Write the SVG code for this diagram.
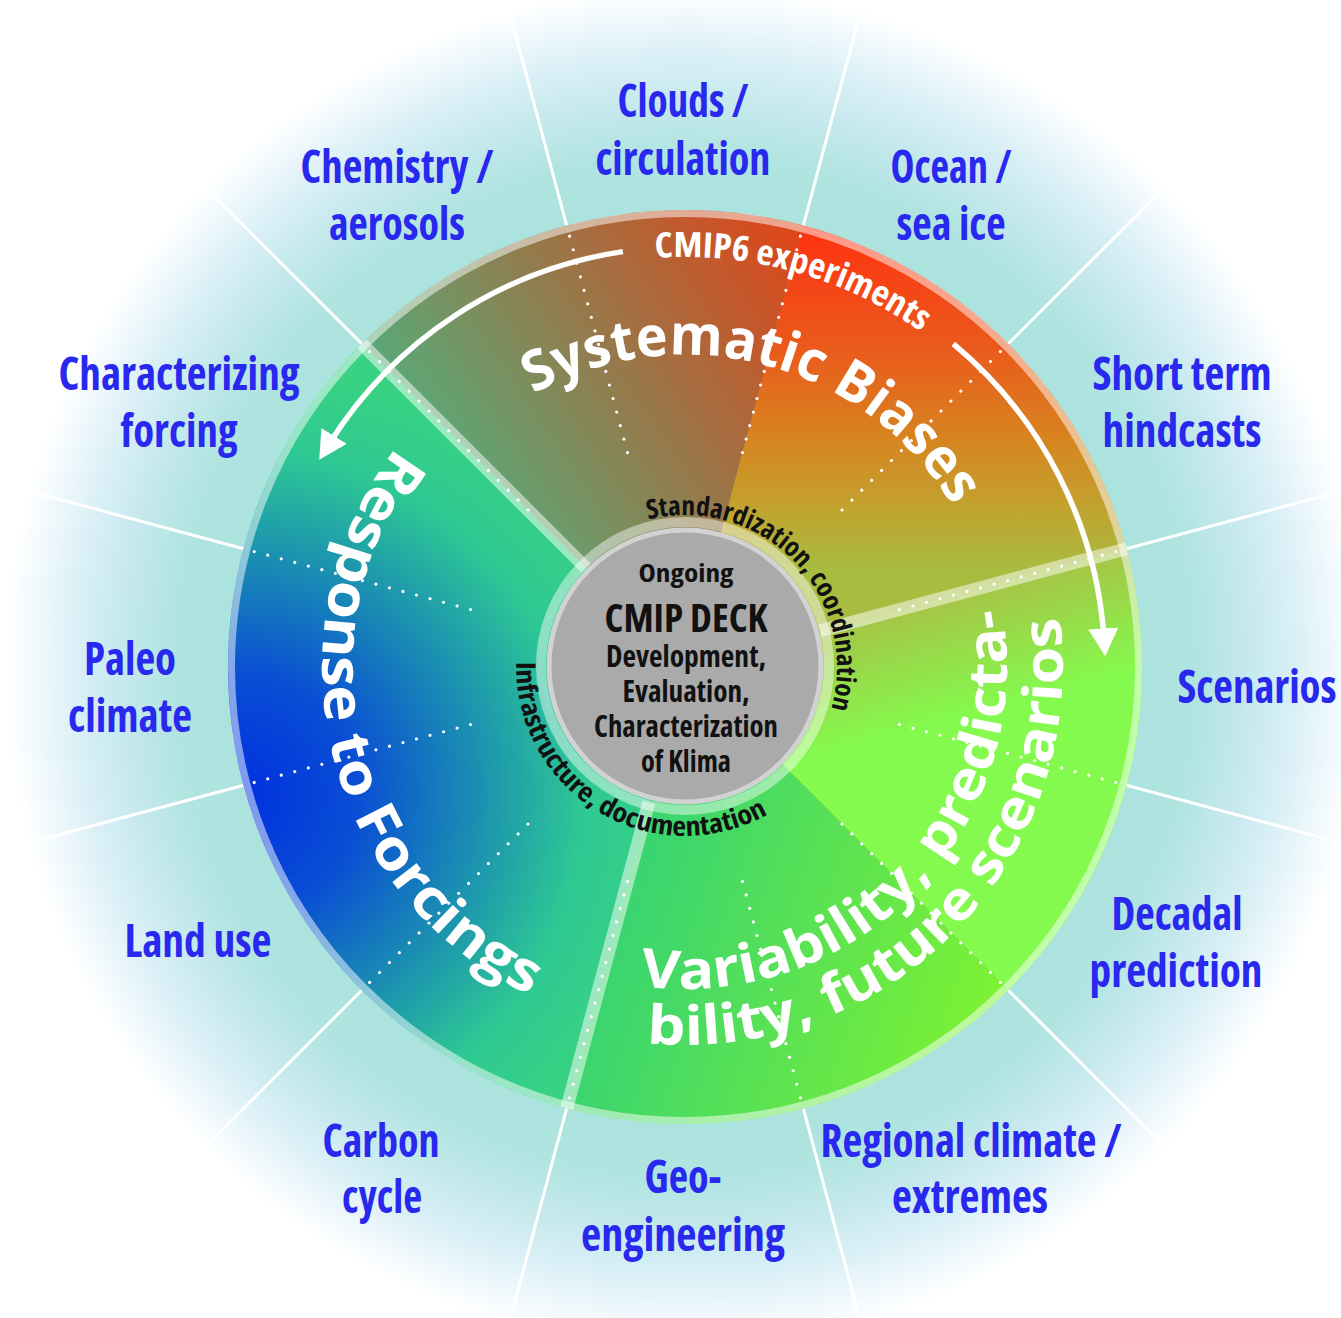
<svg xmlns="http://www.w3.org/2000/svg" width="1341" height="1318" viewBox="0 0 1341 1318">
<style>
.lbl{font-family:"Open Sans","Liberation Sans",sans-serif;font-weight:700;font-stretch:condensed;font-size:46px;fill:#2828ee;text-anchor:middle}
.arcw{font-family:"Open Sans","Liberation Sans",sans-serif;font-weight:700;fill:#fff;text-anchor:middle}
.arcb{font-family:"Open Sans","Liberation Sans",sans-serif;font-weight:700;font-stretch:condensed;fill:#111;text-anchor:middle;font-size:27px}
.ctr{font-family:"Open Sans","Liberation Sans",sans-serif;font-weight:700;font-stretch:condensed;fill:#111;text-anchor:middle}
.dot{stroke:#fff;stroke-width:3.2;stroke-linecap:round;stroke-dasharray:0 14;fill:none}
.spoke{stroke:#fff;stroke-width:3}
.thick{stroke:#fff;stroke-opacity:0.5;stroke-width:13}
.arrow{stroke:#fff;stroke-width:5.5;fill:none;marker-end:url(#ah)}
</style>
<defs>
<radialGradient id="halo" cx="685" cy="667" r="690" gradientUnits="userSpaceOnUse">
<stop offset="0.6" stop-color="#a9e2dc"/>
<stop offset="0.74" stop-color="#b0e4e0"/>
<stop offset="0.81" stop-color="#c3e8ec"/>
<stop offset="0.88" stop-color="#d8eff6"/>
<stop offset="0.94" stop-color="#eff8fc"/>
<stop offset="0.985" stop-color="#ffffff"/>
</radialGradient>
<linearGradient id="gA1" gradientUnits="userSpaceOnUse" x1="440" y1="470" x2="800" y2="228">
<stop offset="0" stop-color="#58aa78"/>
<stop offset="0.5" stop-color="#9a7648"/>
<stop offset="1" stop-color="#e04418"/>
</linearGradient>
<linearGradient id="gA2" gradientUnits="userSpaceOnUse" x1="800" y1="228" x2="800" y2="570">
<stop offset="0" stop-color="#ff3210"/>
<stop offset="0.35" stop-color="#ea5a1c"/>
<stop offset="0.6" stop-color="#d8821f"/>
<stop offset="0.8" stop-color="#c4a02e"/>
<stop offset="1" stop-color="#a8bc40"/>
</linearGradient>
<linearGradient id="gB1" gradientUnits="userSpaceOnUse" x1="1004" y1="582" x2="1035" y2="698">
<stop offset="0" stop-color="#a6c446"/>
<stop offset="1" stop-color="#84fa4e"/>
</linearGradient>
<linearGradient id="gB2" gradientUnits="userSpaceOnUse" x1="640" y1="880" x2="1000" y2="1000">
<stop offset="0" stop-color="#3ad470"/>
<stop offset="1" stop-color="#7ef232"/>
</linearGradient>
<radialGradient id="gC" cx="238" cy="795" r="430" gradientUnits="userSpaceOnUse">
<stop offset="0" stop-color="#0030e0"/>
<stop offset="0.28" stop-color="#0a4ed4"/>
<stop offset="0.55" stop-color="#1a8eb2"/>
<stop offset="0.8" stop-color="#2ec894"/>
<stop offset="1" stop-color="#38d282"/>
</radialGradient>
<marker id="ah" markerUnits="userSpaceOnUse" viewBox="0 0 30 30" markerWidth="30" markerHeight="30" refX="10" refY="15" orient="auto">
<path d="M0,0 L28,15 L0,30 z" fill="#fff"/>
</marker>
<path id="pCmip" d="M397.6,374.6 A410,410 0 0 1 1081.9,564.3"/>
<path id="pSys" d="M391.8,560.3 A312,312 0 0 1 992.3,721.2"/>
<path id="pResp" d="M539.1,334.6 A363,363 0 0 0 708.4,1029.2"/>
<path id="pVar1" d="M506.1,934.7 A322,322 0 0 0 944.7,476.6"/>
<path id="pVar2" d="M473.1,980.0 A378,378 0 0 0 991.2,445.4"/>
<path id="pStd" d="M589.3,548.9 A152,152 0 0 1 799.7,766.7"/>
<path id="pInf" d="M533.4,592.4 A169,169 0 0 0 821.4,766.8"/>
</defs>

<rect width="1341" height="1318" fill="#fff"/>
<circle cx="685" cy="667" r="690" fill="url(#halo)"/>

<g id="spokes">
<line class="spoke" x1="361.8" y1="343.8" x2="204.2" y2="186.2"/>
<line class="spoke" x1="566.7" y1="225.6" x2="509.0" y2="10.2"/>
<line class="spoke" x1="803.3" y1="225.6" x2="861.0" y2="10.2"/>
<line class="spoke" x1="1008.2" y1="343.8" x2="1165.8" y2="186.2"/>
<line class="spoke" x1="1126.4" y1="548.7" x2="1341.8" y2="491.0"/>
<line class="spoke" x1="1126.4" y1="785.3" x2="1341.8" y2="843.0"/>
<line class="spoke" x1="1008.2" y1="990.2" x2="1165.8" y2="1147.8"/>
<line class="spoke" x1="803.3" y1="1108.4" x2="861.0" y2="1323.8"/>
<line class="spoke" x1="566.7" y1="1108.4" x2="509.0" y2="1323.8"/>
<line class="spoke" x1="361.8" y1="990.2" x2="204.2" y2="1147.8"/>
<line class="spoke" x1="243.6" y1="785.3" x2="28.2" y2="843.0"/>
<line class="spoke" x1="243.6" y1="548.7" x2="28.2" y2="491.0"/>
</g>

<g id="ring">
<circle cx="685" cy="667" r="456" fill="#70a060"/>
<path d="M685,667 L361.8,343.8 A457,457 0 0 1 803.3,225.6 Z" fill="url(#gA1)"/>
<path d="M685,667 L803.3,225.6 A457,457 0 0 1 1126.4,548.7 Z" fill="url(#gA2)"/>
<path d="M685,667 L1126.4,548.7 A457,457 0 0 1 1008.2,990.2 Z" fill="url(#gB1)"/>
<path d="M685,667 L1008.2,990.2 A457,457 0 0 1 566.7,1108.4 Z" fill="url(#gB2)"/>
<path d="M685,667 L566.7,1108.4 A457,457 0 0 1 361.8,343.8 Z" fill="url(#gC)"/>
<circle cx="685" cy="667" r="453.5" fill="none" stroke="#fff" stroke-opacity="0.5" stroke-width="7"/>
</g>

<g id="dividers">
<line class="thick" x1="586.0" y1="568.0" x2="361.8" y2="343.8"/>
<line class="thick" x1="820.2" y1="630.8" x2="1126.4" y2="548.7"/>
<line class="thick" x1="648.8" y1="802.2" x2="566.7" y2="1108.4"/>
<line class="dot" x1="528.0" y1="510.0" x2="369.6" y2="351.6"/>
<line class="dot" x1="627.5" y1="452.6" x2="569.6" y2="236.2"/>
<line class="dot" x1="742.5" y1="452.6" x2="800.4" y2="236.2"/>
<line class="dot" x1="842.0" y1="510.0" x2="1000.4" y2="351.6"/>
<line class="dot" x1="899.4" y1="609.5" x2="1115.8" y2="551.6"/>
<line class="dot" x1="899.4" y1="724.5" x2="1115.8" y2="782.4"/>
<line class="dot" x1="842.0" y1="824.0" x2="1000.4" y2="982.4"/>
<line class="dot" x1="742.5" y1="881.4" x2="800.4" y2="1097.8"/>
<line class="dot" x1="627.5" y1="881.4" x2="569.6" y2="1097.8"/>
<line class="dot" x1="528.0" y1="824.0" x2="369.6" y2="982.4"/>
<line class="dot" x1="470.6" y1="724.5" x2="254.2" y2="782.4"/>
<line class="dot" x1="470.6" y1="609.5" x2="254.2" y2="551.6"/>
</g>

<g id="arrows">
<path class="arrow" d="M622.9,251.6 A420,420 0 0 0 328.8,444.4"/>
<path class="arrow" d="M953.3,343.9 A420,420 0 0 1 1104.0,638.4"/>
</g>

<g id="cmip6-experiments">
<text class="arcw" font-size="35" font-stretch="condensed"><textPath href="#pCmip" startOffset="50%" textLength="281" lengthAdjust="spacingAndGlyphs">CMIP6 experiments</textPath></text>
</g>
<g id="systematic-biases">
<text class="arcw" font-size="56"><textPath href="#pSys" startOffset="50%" textLength="480" lengthAdjust="spacingAndGlyphs">Systematic Biases</textPath></text>
</g>
<g id="response-to-forcings">
<text class="arcw" font-size="56"><textPath href="#pResp" startOffset="50%" textLength="646" lengthAdjust="spacingAndGlyphs">Response to Forcings</textPath></text>
</g>
<g id="variability">
<text class="arcw" font-size="54"><textPath href="#pVar1" startOffset="50%" textLength="610" lengthAdjust="spacingAndGlyphs">Variability, predicta-</textPath></text>
<text class="arcw" font-size="54"><textPath href="#pVar2" startOffset="50%" textLength="682" lengthAdjust="spacingAndGlyphs">bility, future scenarios</textPath></text>
</g>

<g id="cmip-deck">
<circle cx="685" cy="666" r="144" fill="none" stroke="#fff" stroke-opacity="0.45" stroke-width="10"/>
<circle cx="685" cy="666" r="136" fill="#aaaaaa" stroke="#d2d2d2" stroke-width="5"/>
<text class="ctr" x="686" y="582" font-size="25" textLength="95" lengthAdjust="spacingAndGlyphs">Ongoing</text>
<text class="ctr" x="686" y="632" font-size="40" textLength="163" lengthAdjust="spacingAndGlyphs">CMIP DECK</text>
<text class="ctr" x="686" y="667" font-size="31" textLength="160" lengthAdjust="spacingAndGlyphs">Development,</text>
<text class="ctr" x="686" y="702" font-size="31" textLength="127" lengthAdjust="spacingAndGlyphs">Evaluation,</text>
<text class="ctr" x="686" y="737" font-size="31" textLength="184" lengthAdjust="spacingAndGlyphs">Characterization</text>
<text class="ctr" x="686" y="772" font-size="31" textLength="90" lengthAdjust="spacingAndGlyphs">of Klima</text>
</g>

<g id="standardization">
<text class="arcb"><textPath href="#pStd" startOffset="50%" textLength="318" lengthAdjust="spacingAndGlyphs">Standardization, coordination</textPath></text>
</g>
<g id="infrastructure">
<text class="arcb"><textPath href="#pInf" startOffset="50%" textLength="357" lengthAdjust="spacingAndGlyphs">Infrastructure, documentation</textPath></text>
</g>

<g id="label-clouds"><text class="lbl" x="683" y="117" textLength="131" lengthAdjust="spacingAndGlyphs">Clouds /</text><text class="lbl" x="683" y="175" textLength="175" lengthAdjust="spacingAndGlyphs">circulation</text></g>
<g id="label-chemistry"><text class="lbl" x="397" y="183" textLength="193" lengthAdjust="spacingAndGlyphs">Chemistry /</text><text class="lbl" x="397" y="240" textLength="136" lengthAdjust="spacingAndGlyphs">aerosols</text></g>
<g id="label-ocean"><text class="lbl" x="951" y="183" textLength="121" lengthAdjust="spacingAndGlyphs">Ocean /</text><text class="lbl" x="951" y="240" textLength="109" lengthAdjust="spacingAndGlyphs">sea ice</text></g>
<g id="label-short-term"><text class="lbl" x="1182" y="390" textLength="179" lengthAdjust="spacingAndGlyphs">Short term</text><text class="lbl" x="1182" y="447" textLength="159" lengthAdjust="spacingAndGlyphs">hindcasts</text></g>
<g id="label-forcing"><text class="lbl" x="179" y="390" textLength="241" lengthAdjust="spacingAndGlyphs">Characterizing</text><text class="lbl" x="179" y="447" textLength="117" lengthAdjust="spacingAndGlyphs">forcing</text></g>
<g id="label-paleo"><text class="lbl" x="130" y="675" textLength="92" lengthAdjust="spacingAndGlyphs">Paleo</text><text class="lbl" x="130" y="732" textLength="124" lengthAdjust="spacingAndGlyphs">climate</text></g>
<g id="label-scenarios"><text class="lbl" x="1257" y="703" textLength="159" lengthAdjust="spacingAndGlyphs">Scenarios</text></g>
<g id="label-land-use"><text class="lbl" x="198" y="957" textLength="147" lengthAdjust="spacingAndGlyphs">Land use</text></g>
<g id="label-decadal"><text class="lbl" x="1177" y="930" textLength="131" lengthAdjust="spacingAndGlyphs">Decadal</text><text class="lbl" x="1176" y="987" textLength="173" lengthAdjust="spacingAndGlyphs">prediction</text></g>
<g id="label-carbon"><text class="lbl" x="381" y="1157" textLength="117" lengthAdjust="spacingAndGlyphs">Carbon</text><text class="lbl" x="382" y="1213" textLength="80" lengthAdjust="spacingAndGlyphs">cycle</text></g>
<g id="label-geo"><text class="lbl" x="683" y="1193" textLength="77" lengthAdjust="spacingAndGlyphs">Geo-</text><text class="lbl" x="683" y="1251" textLength="204" lengthAdjust="spacingAndGlyphs">engineering</text></g>
<g id="label-regional"><text class="lbl" x="971" y="1157" textLength="301" lengthAdjust="spacingAndGlyphs">Regional climate /</text><text class="lbl" x="970" y="1213" textLength="156" lengthAdjust="spacingAndGlyphs">extremes</text></g>
</svg>
